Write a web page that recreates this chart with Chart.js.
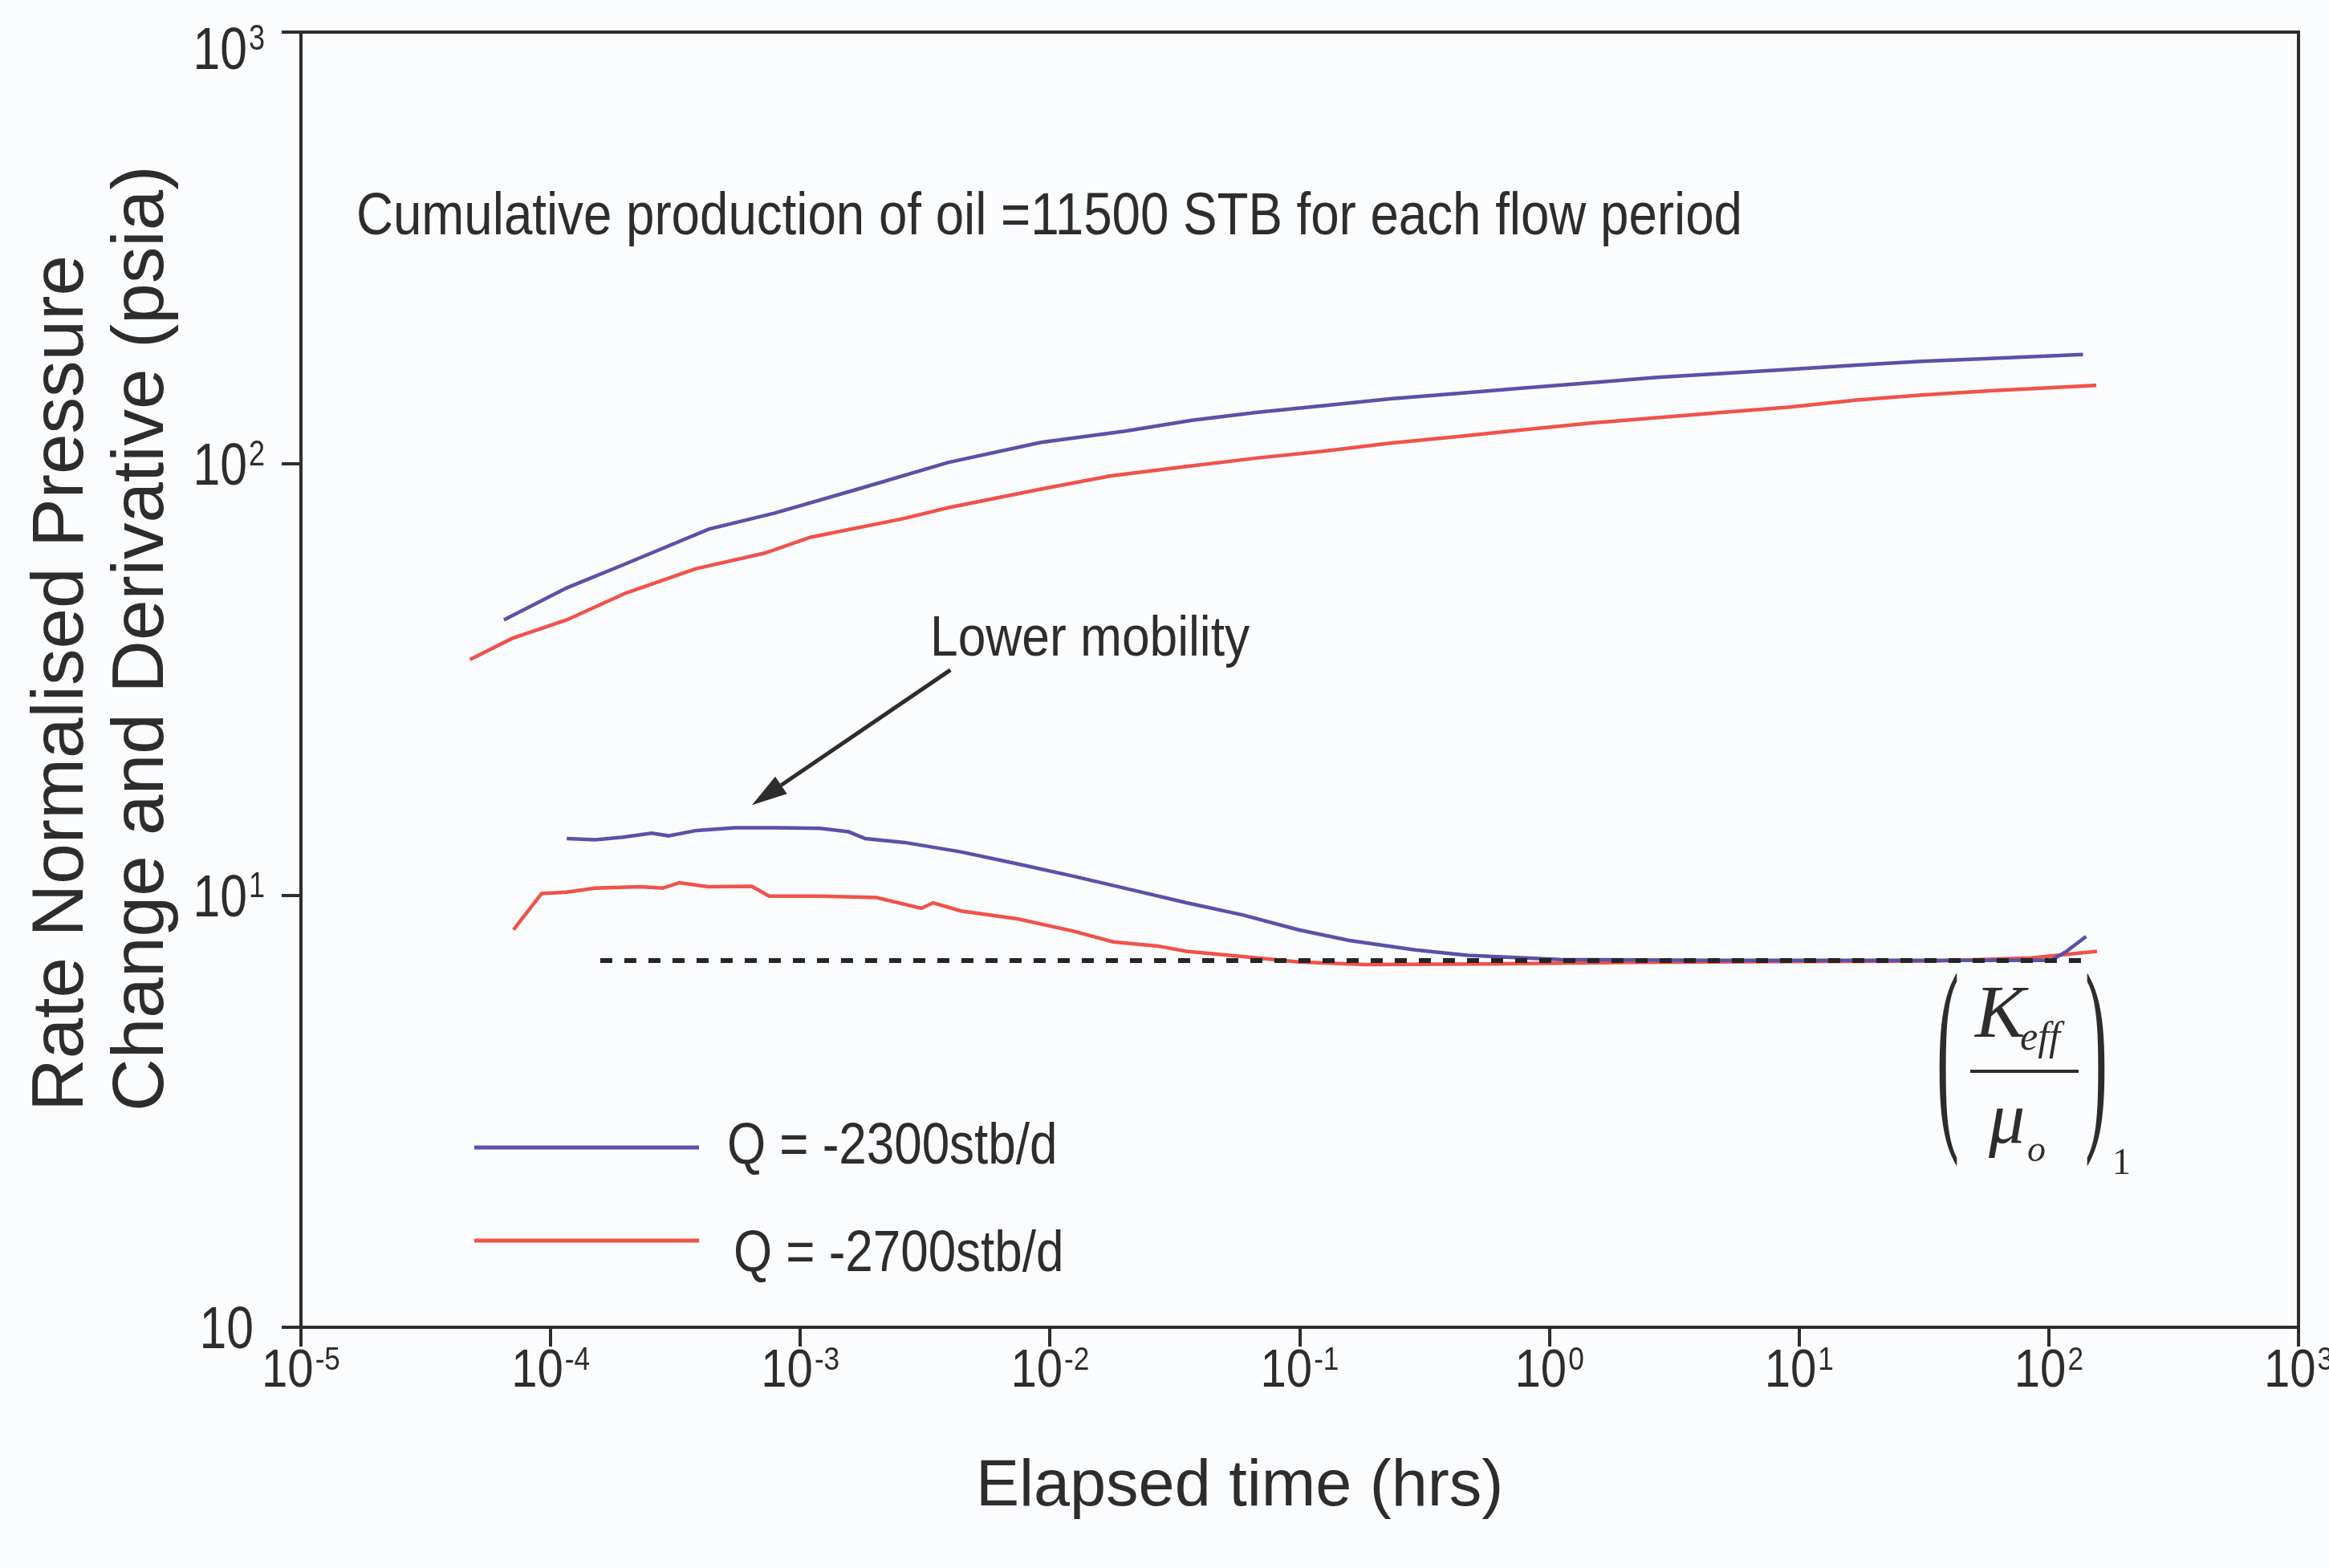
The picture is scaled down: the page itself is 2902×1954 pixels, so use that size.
<!DOCTYPE html>
<html>
<head>
<meta charset="utf-8">
<title>Rate normalised pressure change and derivative</title>
<script src="https://cdn.jsdelivr.net/npm/chart.js@4/dist/chart.umd.min.js"></script>
<style>
  html, body { margin: 0; padding: 0; background: #fbfcfe; }
  #c { display: block; width: 2902px; height: 1954px; }
</style>
</head>
<body>
<canvas id="c" width="2902" height="1954"></canvas>
<script>
// ---- data: elapsed time (hrs) and rate-normalised values (psia) ----
const timeDp2300 = [6.5e-5, 1.16e-4, 2.0e-4, 4.3e-4, 7.9e-4, 1.7e-3, 3.9e-3, 9.2e-3, 0.020, 0.037, 0.068, 0.125,
                    0.23, 0.43, 0.79, 1.46, 2.7, 5.0, 9.2, 17, 31, 58, 137];
const dp2300     = [43.5, 51.6, 58.7, 70.6, 76.9, 87.4, 100.7, 112.1, 119.1, 126.1, 131.6, 136.4,
                    141.4, 145.6, 149.9, 154.0, 158.6, 162.1, 165.6, 169.2, 172.8, 175.3, 179.2];

const timeDp2700 = [4.75e-5, 7.0e-5, 1.16e-4, 2.0e-4, 3.8e-4, 7.2e-4, 1.1e-3, 2.6e-3, 3.9e-3, 9.2e-3, 0.0175, 0.037,
                    0.068, 0.125, 0.23, 0.43, 0.79, 1.46, 2.7, 5.0, 9.2, 17, 31, 58, 155];
const dp2700     = [35.2, 39.4, 43.5, 50.2, 57.1, 62.1, 67.6, 74.7, 79.1, 87.4, 93.8, 98.9,
                    103.2, 107.0, 111.6, 115.7, 119.9, 124.3, 127.9, 131.6, 135.4, 140.5, 144.4, 147.6, 151.9];

const timeDer2300 = [1.16e-4, 1.51e-4, 1.95e-4, 2.54e-4, 2.96e-4, 3.84e-4, 5.5e-4, 7.9e-4, 1.2e-3, 1.56e-3, 1.82e-3,
                     2.62e-3, 4.4e-3, 7.4e-3, 0.0124, 0.0209, 0.0352, 0.059, 0.099, 0.158, 0.29, 0.47, 1.1, 4.4,
                     17, 102, 118, 141];
const der2300     = [13.55, 13.46, 13.65, 13.94, 13.75, 14.15, 14.35, 14.35, 14.31, 14.05, 13.55,
                     13.27, 12.62, 11.84, 11.09, 10.33, 9.62, 9.02, 8.33, 7.87, 7.48, 7.27, 7.11, 7.08,
                     7.08, 7.08, 7.43, 8.04];

const timeDer2700 = [7.1e-5, 9.2e-5, 1.16e-4, 1.51e-4, 2.28e-4, 2.81e-4, 3.28e-4, 4.26e-4, 6.4e-4, 7.5e-4, 1.2e-3,
                     2.02e-3, 3.05e-3, 3.4e-3, 4.4e-3, 7.4e-3, 0.0124, 0.0179, 0.027, 0.0352, 0.059, 0.099,
                     0.183, 0.56, 2.2, 8.7, 34, 85, 156];
const der2700     = [8.33, 10.11, 10.18, 10.40, 10.48, 10.40, 10.71, 10.48, 10.50, 9.97, 9.97,
                     9.89, 9.34, 9.62, 9.21, 8.83, 8.27, 7.81, 7.64, 7.43, 7.22, 7.02,
                     6.92, 6.94, 7.00, 7.03, 7.05, 7.17, 7.43];

// stabilised derivative level (effective mobility)
const refTime  = [1.58e-4, 149];
const refLevel = [7.07, 7.07];

// ---- axis ticks ----
const xTickValues = [1e-5, 1e-4, 1e-3, 1e-2, 1e-1, 1e0, 1e1, 1e2, 1e3];
const xTickLabels = [['10','-5'],['10','-4'],['10','-3'],['10','-2'],['10','-1'],['10','0'],['10','1'],['10','2'],['10','3']];
const yTickValues = [1, 10, 100, 1000];
const yTickLabels = [['10',''],['10','1'],['10','2'],['10','3']];

const seriesNames = ['Q = -2300stb/d', 'Q = -2700stb/d'];

// ---- styling ----
const BLUE = '#5852a8';
const RED  = '#f0524a';
const INK  = '#2f2c2c';
const SANS  = '"Liberation Sans", Arial, Helvetica, sans-serif';
const SERIF = '"Liberation Serif", "Times New Roman", serif';

function pts(xs, ys) { return xs.map((x, i) => ({ x: x, y: ys[i] })); }

// draw a string with optional horizontal compression
function text(ctx, s, x, y, size, o) {
  o = o || {};
  ctx.save();
  ctx.font = (o.italic ? 'italic ' : '') + size + 'px ' + (o.family || SANS);
  ctx.textAlign = o.align || 'left';
  ctx.textBaseline = o.baseline || 'alphabetic';
  ctx.fillStyle = o.color || INK;
  ctx.translate(x, y);
  if (o.rot) ctx.rotate(o.rot);
  ctx.scale(o.sx || 1, o.sy || 1);
  ctx.fillText(s, 0, 0);
  ctx.restore();
}
function width(ctx, s, size, sx, family) {
  ctx.save();
  ctx.font = size + 'px ' + (family || SANS);
  const w = ctx.measureText(s).width * (sx || 1);
  ctx.restore();
  return w;
}
// "10" with a raised exponent
function power(ctx, base, exp, x, baseline, mode, f) {
  const bw = width(ctx, base, f.bs, f.sx);
  const ew = exp ? width(ctx, exp, f.es, f.sx) + 2 : 0;
  const bx = mode === 'right' ? x - bw - ew : x - (bw + ew) / 2;
  text(ctx, base, bx, baseline, f.bs, { sx: f.sx });
  if (exp) text(ctx, exp, bx + bw + 2, baseline - f.rise, f.es, { sx: f.sx });
}
// tall bracket glyph spanning top..bottom
function bracket(ctx, ch, x, top, bottom) {
  ctx.save();
  ctx.font = '84px ' + SERIF;
  const m = ctx.measureText(ch);
  const asc = m.actualBoundingBoxAscent, desc = m.actualBoundingBoxDescent;
  const sy = (bottom - top) / (asc + desc);
  ctx.fillStyle = INK;
  ctx.textAlign = 'left';
  ctx.textBaseline = 'alphabetic';
  ctx.translate(x, top + asc * sy);
  ctx.scale(1, sy);
  ctx.fillText(ch, 0, 0);
  ctx.restore();
}

const X_FONT = { bs: 66, es: 40, sx: 0.88, rise: 21 };
const Y_FONT = { bs: 74, es: 44, sx: 0.82, rise: 24 };

const decor = {
  id: 'decor',
  beforeDraw(chart) {
    const c = chart.ctx;
    c.save();
    c.fillStyle = '#fbfcfe';
    c.fillRect(0, 0, chart.width, chart.height);
    c.restore();
  },
  afterDraw(chart) {
    const c = chart.ctx, a = chart.chartArea;
    const xs = chart.scales.x, ys = chart.scales.y;

    // frame
    c.save();
    c.strokeStyle = INK;
    c.lineWidth = 4;
    c.strokeRect(a.left, a.top, a.right - a.left, a.bottom - a.top);
    c.restore();

    // tick labels
    xTickValues.forEach((v, i) => {
      power(c, xTickLabels[i][0], xTickLabels[i][1], xs.getPixelForValue(v), 1728, 'center', X_FONT);
    });
    yTickValues.forEach((v, i) => {
      const mid = Math.max(ys.getPixelForValue(v), a.top + 20);
      const right = yTickLabels[i][1] ? 330 : 316;
      power(c, yTickLabels[i][0], yTickLabels[i][1], right, mid + 26, 'right', Y_FONT);
    });

    // axis titles
    text(c, 'Elapsed time (hrs)', 1216, 1876, 81, {});
    text(c, 'Rate Normalised Pressure', 103, 1385, 91, { rot: -Math.PI / 2 });
    text(c, 'Change and Derivative (psia)', 203, 1385, 91, { rot: -Math.PI / 2 });

    // note
    text(c, 'Cumulative production of oil =11500 STB for each flow period', 444, 292, 74, { sx: 0.86 });

    // arrow pointing at the early derivative hump
    const tx = xs.getPixelForValue(6.4e-4), ty = ys.getPixelForValue(16.2);
    const sxp = xs.getPixelForValue(3.99e-3), syp = ys.getPixelForValue(33.3);
    const ang = Math.atan2(ty - syp, tx - sxp);
    const HL = 44, HW = 13;
    const bxp = tx - HL * Math.cos(ang), byp = ty - HL * Math.sin(ang);
    c.save();
    c.strokeStyle = INK; c.fillStyle = INK; c.lineWidth = 5;
    c.beginPath(); c.moveTo(sxp, syp); c.lineTo(bxp, byp); c.stroke();
    c.beginPath();
    c.moveTo(tx, ty);
    c.lineTo(bxp + HW * Math.sin(ang), byp - HW * Math.cos(ang));
    c.lineTo(bxp - HW * Math.sin(ang), byp + HW * Math.cos(ang));
    c.closePath(); c.fill();
    c.restore();
    text(c, 'Lower mobility', 1159, 817, 70, { sx: 0.89 });

    // legend
    const legend = [[BLUE, 1430, 906, 1430], [RED, 1546, 914, 1564]];
    legend.forEach((l, i) => {
      c.save();
      c.strokeStyle = l[0]; c.lineWidth = 5;
      c.beginPath(); c.moveTo(591, l[1]); c.lineTo(871, l[1]); c.stroke();
      c.restore();
      text(c, seriesNames[i], l[2], l[3], 72, { sx: 0.86, baseline: 'middle' });
    });

    // (K_eff / mu_o)_1
    text(c, 'K', 2461, 1292, 94, { family: SERIF, italic: true });
    text(c, 'eff', 2517, 1308, 50, { family: SERIF, italic: true });
    c.save(); c.fillStyle = INK; c.fillRect(2455, 1333, 135, 4); c.restore();
    text(c, '\u03BC', 2478, 1424, 90, { family: SERIF, italic: true });
    text(c, 'o', 2526, 1447, 46, { family: SERIF, italic: true });
    bracket(c, '(', 2413, 1210, 1457);
    bracket(c, ')', 2598, 1210, 1457);
    text(c, '1', 2632, 1463, 46, { family: SERIF });
  }
};

const lineStyle = (color) => ({
  borderColor: color, backgroundColor: color, borderWidth: 4.5,
  pointRadius: 0, showLine: true, tension: 0, fill: false, order: 1
});

new Chart(document.getElementById('c'), {
  type: 'scatter',
  data: {
    datasets: [
      Object.assign({ label: 'Stabilised derivative', data: pts(refTime, refLevel) },
        { borderColor: '#262424', borderWidth: 6, borderDash: [15, 15], pointRadius: 0, showLine: true, order: 0 }),
      Object.assign({ label: seriesNames[0] + ' change', data: pts(timeDp2300, dp2300) }, lineStyle(BLUE)),
      Object.assign({ label: seriesNames[1] + ' change', data: pts(timeDp2700, dp2700) }, lineStyle(RED)),
      Object.assign({ label: seriesNames[0] + ' derivative', data: pts(timeDer2300, der2300) }, lineStyle(BLUE)),
      Object.assign({ label: seriesNames[1] + ' derivative', data: pts(timeDer2700, der2700) }, lineStyle(RED))
    ]
  },
  options: {
    responsive: false,
    devicePixelRatio: 1,
    animation: false,
    events: [],
    layout: { padding: { left: 0, right: 38, top: 40, bottom: 0 } },
    plugins: { legend: { display: false }, tooltip: { enabled: false } },
    scales: {
      x: {
        type: 'logarithmic', min: 1e-5, max: 1e3,
        afterBuildTicks: (s) => { s.ticks = xTickValues.map(v => ({ value: v })); },
        afterFit: (s) => { s.height = 300; },
        ticks: { display: false },
        border: { display: false },
        grid: { display: true, drawOnChartArea: false, drawTicks: true, tickLength: 24, color: INK, lineWidth: 4 }
      },
      y: {
        type: 'logarithmic', min: 1, max: 1000,
        afterBuildTicks: (s) => { s.ticks = yTickValues.map(v => ({ value: v })); },
        afterFit: (s) => { s.width = 375; },
        ticks: { display: false },
        border: { display: false },
        grid: { display: true, drawOnChartArea: false, drawTicks: true, tickLength: 24, color: INK, lineWidth: 4 }
      }
    }
  },
  plugins: [decor]
});
</script>
</body>
</html>
